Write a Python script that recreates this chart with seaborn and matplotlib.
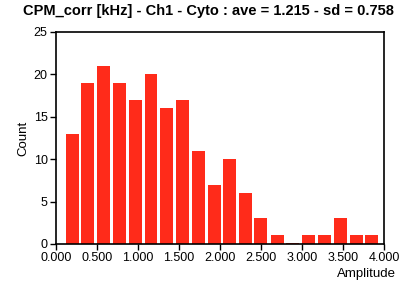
import matplotlib
matplotlib.use("Agg")
import matplotlib.pyplot as plt
import seaborn as sns
import pandas as pd
from matplotlib.ticker import FormatStrFormatter, MultipleLocator

bin_centers = [0.20, 0.39, 0.58, 0.78, 0.97, 1.16, 1.35, 1.54, 1.74, 1.93,
               2.12, 2.31, 2.50, 2.70, 2.89, 3.08, 3.27, 3.47, 3.66, 3.85]
counts = [13, 19, 21, 19, 17, 20, 16, 17, 11, 7, 10, 6, 3, 1, 0.15, 1, 1, 3, 1, 1]

sns.set_style("ticks")
plt.rcParams['font.family'] = ['Liberation Sans', 'DejaVu Sans']
plt.rcParams['text.color'] = 'black'
plt.rcParams['axes.labelcolor'] = 'black'
plt.rcParams['xtick.color'] = 'black'
plt.rcParams['ytick.color'] = 'black'

fig = plt.figure(figsize=(4.08, 2.87), dpi=100)
ax = fig.add_axes([0.137, 0.150, 0.804, 0.739])

df = pd.DataFrame({"x": bin_centers, "y": counts})
sns.barplot(data=df, x="x", y="y", native_scale=True, width=0.83,
            color="#FF2B1A", saturation=1, edgecolor="none", ax=ax)

ax.set_xlim(0, 4.0)
ax.set_ylim(0, 25)
ax.xaxis.set_major_locator(MultipleLocator(0.5))
ax.xaxis.set_major_formatter(FormatStrFormatter('%.3f'))
ax.yaxis.set_major_locator(MultipleLocator(5))
for s in ax.spines.values():
    s.set_linewidth(1.2)
    s.set_color("black")
ax.tick_params(labelsize=9, length=4, width=1, pad=2)
ax.set_xlabel("")
ax.set_ylabel("Count", fontsize=9.5, labelpad=3)
fig.text(0.97, 0.025, "Amplitude", ha="right", va="bottom", fontsize=9.5)
fig.text(0.51, 0.985, "CPM_corr [kHz] - Ch1 - Cyto : ave = 1.215 - sd = 0.758",
         ha="center", va="top", fontsize=10.5, fontweight="bold")

fig.savefig("out.png", dpi=100)
